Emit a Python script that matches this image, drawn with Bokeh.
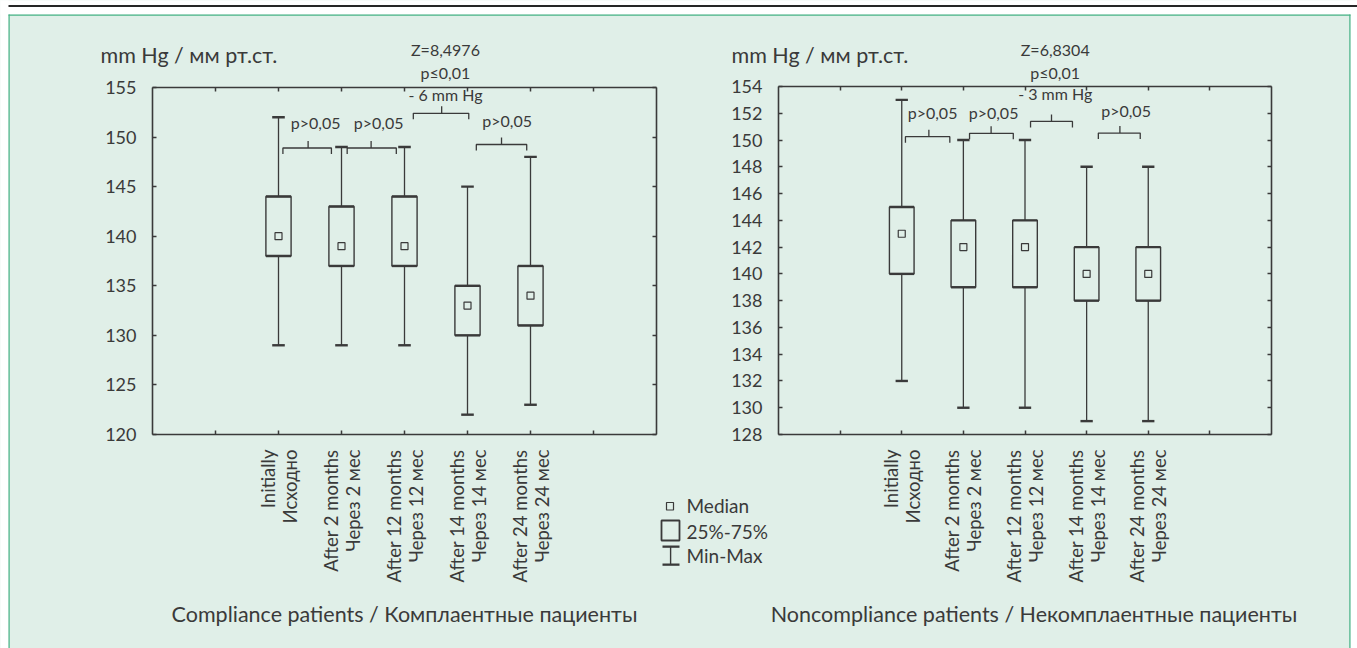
import math
from bokeh.plotting import figure
from bokeh.models import FixedTicker, LinearAxis, Range1d, Label, BoxAnnotation, ColumnDataSource
from bokeh.embed import file_html
from bokeh.resources import INLINE

# ---------------- data ----------------
categories = ["Initially\nИсходно", "After 2 months\nЧерез 2 мес", "After 12 months\nЧерез 12 мес",
              "After 14 months\nЧерез 14 мес", "After 24 months\nЧерез 24 мес"]
positions = [2, 3, 4, 5, 6]

comp_min = [129, 129, 129, 122, 123]
comp_q1 = [138, 137, 137, 130, 131]
comp_med = [140, 139, 139, 133, 134]
comp_q3 = [144, 143, 144, 135, 137]
comp_max = [152, 149, 149, 145, 148]

nonc_min = [132, 130, 130, 129, 129]
nonc_q1 = [140, 139, 139, 138, 138]
nonc_med = [143, 142, 142, 140, 140]
nonc_q3 = [145, 144, 144, 142, 142]
nonc_max = [153, 150, 150, 148, 148]

comp_yticks = [120, 125, 130, 135, 140, 145, 150, 155]
nonc_yticks = list(range(128, 156, 2))
x_ticks = [1, 2, 3, 4, 5, 6, 7]

# significance brackets: (x_start, x_end, x_mid, level)
comp_brackets = [(2.07, 2.84, 2.47, 148.9), (3.09, 3.87, 3.47, 148.9),
                 (4.14, 5.02, 4.59, 152.4), (5.14, 5.94, 5.54, 149.25)]
comp_plabels = [(2.59, 151.47, "p>0,05"), (3.59, 151.47, "p>0,05"), (5.63, 151.67, "p>0,05")]
comp_head = (4.65, ["Z=8,4976", "p≤0,01", "- 6 mm Hg"], [158.85, 156.56, 154.34])

nonc_brackets = [(2.06, 2.78, 2.44, 150.25), (3.10, 3.81, 3.45, 150.5),
                 (4.09, 4.77, 4.43, 151.39), (5.19, 5.87, 5.54, 150.52)]
nonc_plabels = [(2.50, 152.09, "p>0,05"), (3.49, 152.09, "p>0,05"), (5.64, 152.21, "p>0,05")]
nonc_head = (4.49, ["Z=6,8304", "p≤0,01", "- 3 mm Hg"], [156.78, 155.08, 153.44])

BG = "#e0efe8"
INK = "#3a3a3a"
FONT = "Lato"
GREEN = "#47b386"
PAGE_W, PAGE_H = 1357, 648


def calib(box_l, box_r, box_t, box_b, y0, y1):
    sx = (box_r - box_l) / 8.0
    sy = (box_b - box_t) / float(y1 - y0)
    return (lambda px: (px - box_l) / sx), (lambda py: y1 - (py - box_t) / sy), sy


# chart boxes in page pixels: left chart and right chart
XL, YL, SYL = calib(152, 656, 87, 434, 120, 155)
XR, YR, SYR = calib(778, 1271, 86, 434, 128, 154)

p = figure(width=PAGE_W, height=PAGE_H, x_range=Range1d(XL(0), XL(PAGE_W)),
           y_range=Range1d(YL(PAGE_H), YL(0)), title=None,
           x_axis_location=None, y_axis_location=None,
           output_backend="svg", toolbar_location=None,
           min_border_left=0, min_border_right=0, min_border_top=0, min_border_bottom=0)
p.extra_x_ranges = {"r": Range1d(XR(0), XR(PAGE_W))}
p.extra_y_ranges = {"r": Range1d(YR(PAGE_H), YR(0))}
p.grid.visible = False
p.background_fill_color = BG
p.border_fill_color = BG
p.outline_line_color = None


def solid(l, r, t, b, color):
    p.add_layout(BoxAnnotation(left=XL(l), right=XL(r), top=YL(t), bottom=YL(b), fill_alpha=1,
                               line_color=None, level="underlay", fill_color=color))


def label(x, y, text, size, align="center", rn="default"):
    p.add_layout(Label(x=x, y=y, text=text, text_align=align, text_baseline="middle",
                       text_font=FONT, text_font_size=size, text_color=INK,
                       x_range_name=rn, y_range_name=rn))


# page decoration: white margins, black rule, green panel border
solid(-20, PAGE_W + 20, -20, 14, "white")
solid(-20, 8, -20, PAGE_H + 20, "white")
solid(1350, PAGE_W + 20, -20, PAGE_H + 20, "white")
solid(8, PAGE_W + 20, 4.5, 6.5, "#262626")
solid(8, 1350, 14, 15.2, GREEN)
solid(8, 9.2, 14, PAGE_H + 20, GREEN)
solid(1348.8, 1350, 14, PAGE_H + 20, GREEN)


def style_axis(ax, ticks, loc, bounds, labels=True):
    ax.ticker = FixedTicker(ticks=ticks)
    ax.fixed_location = loc
    ax.bounds = bounds
    ax.axis_line_color = INK
    ax.axis_line_width = 1.6
    ax.major_tick_in = 4
    ax.major_tick_out = 0
    ax.major_tick_line_color = INK
    ax.major_tick_line_width = 1.5
    ax.minor_tick_line_color = None
    ax.major_label_text_font = FONT
    ax.major_label_text_color = INK
    ax.major_label_text_font_size = "18px"
    if not labels:
        ax.major_label_overrides = {t: "" for t in ticks}
        ax.major_label_standoff = 0


def chart(rn, y0, y1, yticks, sy, mins, q1s, meds, q3s, maxs, brackets, plabels, head):
    ya = LinearAxis(x_range_name=rn, y_range_name=rn)
    style_axis(ya, yticks, 0, (y0, y1))
    ya.major_label_standoff = 16
    p.add_layout(ya, "left")
    xa = LinearAxis(x_range_name=rn, y_range_name=rn)
    style_axis(xa, x_ticks, y0, (0, 8))
    xa.major_label_orientation = math.pi / 2
    xa.major_label_standoff = 15
    xa.major_label_text_font_size = "18.5px"
    xa.major_label_text_line_height = 1.0
    ov = {1: "", 7: ""}
    for pos, c in zip(positions, categories):
        ov[pos] = c
    xa.major_label_overrides = ov
    p.add_layout(xa, "below")
    ra = LinearAxis(x_range_name=rn, y_range_name=rn)
    style_axis(ra, yticks, 8, (y0, y1), labels=False)
    p.add_layout(ra, "right")
    ta = LinearAxis(x_range_name=rn, y_range_name=rn)
    style_axis(ta, x_ticks, y1, (0, 8), labels=False)
    p.add_layout(ta, "above")

    kw = dict(x_range_name=rn, y_range_name=rn)
    src = ColumnDataSource(dict(
        x=positions, mn=mins, q1=q1s, med=meds, q3=q3s, mx=maxs,
        l=[v - 0.2 for v in positions], r=[v + 0.2 for v in positions],
        cl=[v - 0.1 for v in positions], cr=[v + 0.1 for v in positions]))
    p.segment(x0="x", y0="q3", x1="x", y1="mx", source=src, line_color=INK, line_width=1.3, **kw)
    p.segment(x0="x", y0="mn", x1="x", y1="q1", source=src, line_color=INK, line_width=1.3, **kw)
    p.quad(left="l", right="r", bottom="q1", top="q3", source=src, fill_color=None,
           line_color=INK, line_width=1.4, **kw)
    for k in ("q1", "q3"):
        p.segment(x0="l", y0=k, x1="r", y1=k, source=src, line_color=INK, line_width=2.4, **kw)
    for k in ("mn", "mx"):
        p.segment(x0="cl", y0=k, x1="cr", y1=k, source=src, line_color=INK, line_width=2.4, **kw)
    p.scatter(x="x", y="med", source=src, marker="square", size=7, fill_color=None,
              line_color=INK, line_width=1.2, **kw)

    d_down = 6 / sy
    d_up = 7 / sy
    xs, ys = [], []
    for a, b, m, lev in brackets:
        xs.append([a, a, b, b])
        ys.append([lev - d_down, lev, lev, lev - d_down])
        xs.append([m, m])
        ys.append([lev, lev + d_up])
    p.multi_line(xs=xs, ys=ys, line_color=INK, line_width=1.3, **kw)

    for x, y, t in plabels:
        label(x, y, t, "16px", rn=rn)
    hx, htexts, hys = head
    for t, y in zip(htexts, hys):
        label(hx, y, t, "16px", rn=rn)


chart("default", 120, 155, comp_yticks, SYL, comp_min, comp_q1, comp_med, comp_q3, comp_max,
      comp_brackets, comp_plabels, comp_head)
chart("r", 128, 154, nonc_yticks, SYR, nonc_min, nonc_q1, nonc_med, nonc_q3, nonc_max,
      nonc_brackets, nonc_plabels, nonc_head)

# unit labels and group titles (positioned in page pixels)
label(XL(100), YL(54.5), "mm Hg  / мм рт.ст.", "21.5px", align="left")
label(XL(731), YL(54.5), "mm Hg  / мм рт.ст.", "21.5px", align="left")
label(XL(404), YL(613.5), "Compliance patients / Комплаентные пациенты", "21.5px")
label(XL(1033.5), YL(613.5), "Noncompliance patients / Некомплаентные пациенты", "21.5px")

# legend
p.add_layout(BoxAnnotation(left=XL(666), right=XL(673), top=YL(502), bottom=YL(509.5),
                           fill_color=None, line_color=INK, line_alpha=1, line_width=1.2))
p.add_layout(BoxAnnotation(left=XL(661), right=XL(679), top=YL(520), bottom=YL(540),
                           fill_color=None, line_color=INK, line_alpha=1, line_width=1.8))
for l_, r_, t_, b_ in ((669.4, 670.8, 546, 564), (662, 679, 545, 547.3), (662, 679, 563, 565.3)):
    p.add_layout(BoxAnnotation(left=XL(l_), right=XL(r_), top=YL(t_), bottom=YL(b_),
                               fill_color=INK, fill_alpha=1, line_color=None))
for txt, cy in (("Median", 505), ("25%-75%", 530.6), ("Min-Max", 555)):
    label(XL(686), YL(cy), txt, "19px", align="left")

open("out.html", "w").write(file_html(p, INLINE))
